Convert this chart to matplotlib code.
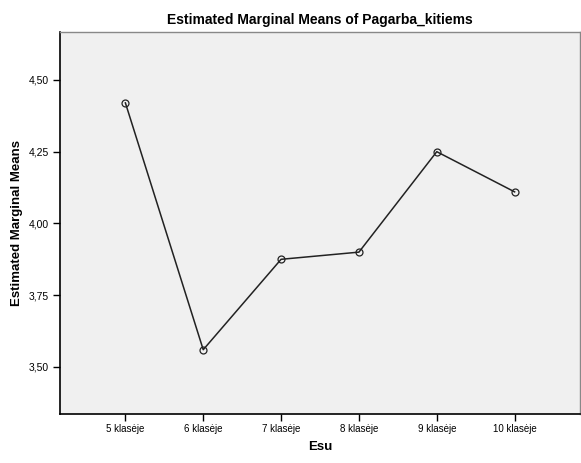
import matplotlib
matplotlib.use("Agg")
import matplotlib.pyplot as plt

plt.rcParams['font.family'] = ['Liberation Sans', 'DejaVu Sans']

# data
categories = ['5 klasėje', '6 klasėje', '7 klasėje', '8 klasėje', '9 klasėje', '10 klasėje']
means = [4.42, 3.56, 3.875, 3.90, 4.25, 4.11]
y_ticks = [3.50, 3.75, 4.00, 4.25, 4.50]
y_tick_labels = ['3,50', '3,75', '4,00', '4,25', '4,50']

fig = plt.figure(figsize=(5.81, 4.63), dpi=100)
ax = fig.add_axes([60 / 581, 1 - 414 / 463, 520 / 581, 382 / 463])
ax.set_facecolor('#f0f0f0')

x = list(range(len(categories)))
ax.plot(x, means, color='#222222', linewidth=1.1, marker='o', markersize=5,
        markerfacecolor='none', markeredgecolor='#222222', markeredgewidth=0.9)

ax.set_xlim(-0.84, 5.84)
ax.set_ylim(3.336, 4.667)
ax.set_xticks(x)
ax.set_xticklabels(categories, fontsize=7)
ax.set_yticks(y_ticks)
ax.set_yticklabels(y_tick_labels, fontsize=7.5)
ax.tick_params(axis='x', direction='out', length=5, width=1, color='black', pad=2)
ax.tick_params(axis='y', direction='out', length=5, width=1, color='black', pad=3)

for side in ['left', 'bottom']:
    ax.spines[side].set_color('black')
    ax.spines[side].set_linewidth(1.2)
for side in ['top', 'right']:
    ax.spines[side].set_color('#888888')
    ax.spines[side].set_linewidth(1.0)

ax.set_title('Estimated Marginal Means of Pagarba_kitiems', fontsize=10, fontweight='bold', pad=6)
ax.set_xlabel('Esu', fontsize=9.5, fontweight='bold', labelpad=5)
ax.set_ylabel('Estimated Marginal Means', fontsize=9.5, fontweight='bold', labelpad=4)

fig.savefig('out.png', dpi=100)
